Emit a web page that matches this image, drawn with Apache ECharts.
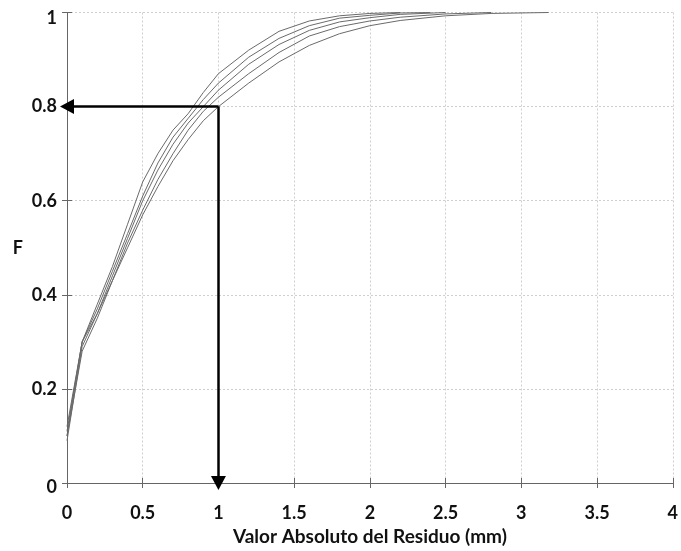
<!DOCTYPE html>
<html>
<head>
<meta charset="utf-8">
<script src="https://cdn.jsdelivr.net/npm/echarts@6/dist/echarts.min.js"></script>
<style>html,body{margin:0;padding:0;background:#fff;}#c{width:681px;height:551px;}</style>
</head>
<body>
<div id="c"></div>
<script>
var xTicks = [0, 0.5, 1, 1.5, 2, 2.5, 3, 3.5, 4];
var yTicks = [0, 0.2, 0.4, 0.6, 0.8, 1];

var curveA = [[0,0.10],[0.1,0.30],[0.2,0.38],[0.3,0.46],[0.4,0.55],[0.5,0.64],[0.6,0.70],[0.7,0.75],[0.8,0.785],[0.9,0.83],[1.0,0.87],[1.2,0.92],[1.4,0.96],[1.6,0.982],[1.8,0.993],[2.0,0.998],[2.2,1.0]];
var curveB = [[0,0.11],[0.1,0.30],[0.2,0.37],[0.3,0.45],[0.4,0.53],[0.5,0.61],[0.6,0.68],[0.7,0.735],[0.8,0.775],[0.9,0.815],[1.0,0.85],[1.2,0.905],[1.4,0.945],[1.6,0.972],[1.8,0.988],[2.0,0.994],[2.2,0.999],[2.4,1.0]];
var curveC = [[0,0.09],[0.1,0.29],[0.2,0.36],[0.3,0.44],[0.4,0.52],[0.5,0.60],[0.6,0.665],[0.7,0.72],[0.8,0.765],[0.9,0.80],[1.0,0.835],[1.2,0.89],[1.4,0.932],[1.6,0.962],[1.8,0.98],[2.0,0.989],[2.2,0.996],[2.5,1.0]];
var curveD = [[0,0.12],[0.1,0.30],[0.2,0.36],[0.3,0.43],[0.4,0.51],[0.5,0.58],[0.6,0.645],[0.7,0.70],[0.8,0.75],[0.9,0.79],[1.0,0.82],[1.2,0.87],[1.4,0.915],[1.6,0.95],[1.8,0.97],[2.0,0.982],[2.2,0.99],[2.5,0.997],[2.8,1.0]];
var curveE = [[0,0.10],[0.1,0.28],[0.2,0.35],[0.3,0.43],[0.4,0.50],[0.5,0.57],[0.6,0.63],[0.7,0.685],[0.8,0.73],[0.9,0.77],[1.0,0.80],[1.2,0.85],[1.4,0.895],[1.6,0.93],[1.8,0.955],[2.0,0.972],[2.2,0.983],[2.5,0.993],[2.8,0.998],[3.18,1.0]];

var arrowCorner = [1, 0.8];
var arrowLeftEnd = [0, 0.8];
var arrowDownEnd = [1, 0.0];

var font = 'Lato, "Open Sans", sans-serif';
var chart = echarts.init(document.getElementById('c'), null, {renderer: 'canvas'});

function curve(d) {
  return {type: 'line', data: d, showSymbol: false, symbol: 'none',
    lineStyle: {color: '#6a6a6a', width: 1}, z: 3, silent: true, animation: false};
}

var axisCommon = {
  min: 0, axisLine: {show: true, lineStyle: {color: '#666', width: 1}},
  axisTick: {show: true, inside: true, length: 5, lineStyle: {color: '#666'}},
  splitLine: {show: false}
};

chart.setOption({
  animation: false,
  backgroundColor: '#fff',
  grid: {left: 67, right: 5, top: 12.5, bottom: 58, containLabel: false},
  xAxis: [
    Object.assign({}, axisCommon, {
      type: 'value', max: 4, interval: 0.5, position: 'bottom',
      axisLabel: {margin: 21, color: '#111', fontFamily: font, fontWeight: 'bold', fontSize: 18,
        formatter: function (v) { return xTicks.indexOf(v) >= 0 ? String(v) : ''; }},
      splitLine: {show: true, lineStyle: {color: '#cfcfcf', type: [2, 2], width: 1}},
      name: 'Valor Absoluto del Residuo (mm)', nameLocation: 'middle', nameGap: 44,
      nameTextStyle: {color: '#111', fontFamily: font, fontWeight: 'bold', fontSize: 19}
    }),
    Object.assign({}, axisCommon, {
      type: 'value', max: 4, interval: 0.5, position: 'top', axisLabel: {show: false}
    })
  ],
  yAxis: [
    Object.assign({}, axisCommon, {
      type: 'value', max: 1, interval: 0.2, position: 'left',
      axisLabel: {margin: 10, color: '#111', fontFamily: font, fontWeight: 'bold', fontSize: 18,
        formatter: function (v) {
          var r = Math.round(v * 10) / 10;
          if (yTicks.indexOf(r) < 0) return '';
          if (r === 1) return '{t|1}';
          if (r === 0) return '{b|0}';
          return String(r);
        },
        rich: {
          t: {fontFamily: font, fontWeight: 'bold', fontSize: 18, color: '#111', padding: [11, 0, 0, 0]},
          b: {fontFamily: font, fontWeight: 'bold', fontSize: 18, color: '#111', padding: [9, 0, 0, 0]}
        }},
      splitLine: {show: true, lineStyle: {color: '#cfcfcf', type: [2, 2], width: 1}},
      name: 'F', nameLocation: 'middle', nameGap: 44, nameRotate: 0,
      nameTextStyle: {color: '#111', fontFamily: font, fontWeight: 'bold', fontSize: 18}
    }),
    Object.assign({}, axisCommon, {
      type: 'value', max: 1, interval: 0.2, position: 'right', axisLabel: {show: false}
    })
  ],
  series: [
    curve(curveA), curve(curveB), curve(curveC), curve(curveD), curve(curveE),
    {
      type: 'line', data: [], silent: true, animation: false,
      markLine: {
        silent: true, animation: false, symbolSize: [15, 14],
        label: {show: false},
        lineStyle: {color: '#000', width: 2.5, type: 'solid'},
        data: [
          [{coord: arrowCorner, symbol: 'none'}, {coord: arrowLeftEnd, symbol: 'triangle'}],
          [{coord: arrowCorner, symbol: 'none'}, {coord: arrowDownEnd, symbol: 'triangle'}]
        ]
      }
    }
  ]
});
</script>
</body>
</html>
